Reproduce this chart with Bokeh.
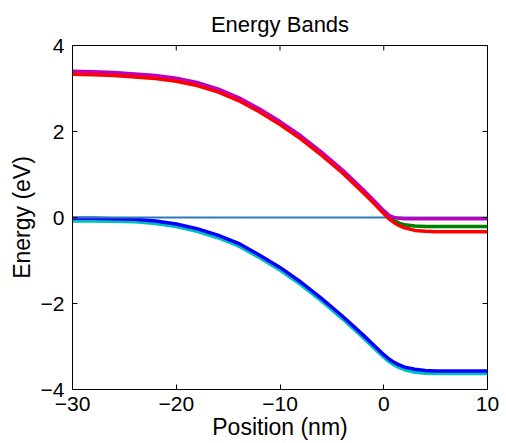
import math

from bokeh.plotting import figure
from bokeh.models import FixedTicker, Range1d
from bokeh.embed import file_html
from bokeh.resources import INLINE

# Position along the device (nm)
position_nm = [-30, -28, -26, -24, -22, -20, -18, -16, -14, -12, -10, -8, -6, -4,
               -2, -1, 0, 0.5, 1, 1.5, 2, 3, 4, 5, 6, 8, 10]

# Conduction band edges (eV)
ec_magenta = [3.40, 3.39, 3.37, 3.34, 3.30, 3.24, 3.14, 2.99, 2.79, 2.53, 2.23, 1.90, 1.52, 1.11,
              0.65, 0.41, 0.16, 0.05, 0.00, -0.02, -0.03, -0.03, -0.03, -0.03, -0.03, -0.03, -0.03]
ec_green = [3.365, 3.355, 3.335, 3.305, 3.265, 3.205, 3.105, 2.955, 2.755, 2.495, 2.195, 1.865, 1.485, 1.075,
            0.615, 0.375, 0.12, 0.01, -0.07, -0.13, -0.17, -0.20, -0.21, -0.21, -0.21, -0.21, -0.21]
ec_red = [3.33, 3.32, 3.30, 3.27, 3.23, 3.17, 3.07, 2.92, 2.72, 2.46, 2.16, 1.83, 1.45, 1.04,
          0.58, 0.34, 0.09, -0.03, -0.12, -0.19, -0.24, -0.30, -0.32, -0.33, -0.33, -0.33, -0.33]

# Valence band edges (eV)
ev_blue = [-0.02, -0.02, -0.03, -0.04, -0.08, -0.15, -0.26, -0.41, -0.60, -0.87, -1.16, -1.50, -1.88, -2.29,
           -2.73, -2.96, -3.19, -3.29, -3.37, -3.43, -3.48, -3.53, -3.56, -3.57, -3.57, -3.57, -3.57]
ev_cyan = [-0.08, -0.08, -0.09, -0.10, -0.14, -0.21, -0.32, -0.47, -0.66, -0.93, -1.22, -1.56, -1.94, -2.35,
           -2.79, -3.02, -3.25, -3.35, -3.43, -3.49, -3.54, -3.60, -3.62, -3.63, -3.63, -3.63, -3.63]

# Fermi level reference
fermi_x = [-30, 10]
fermi_y = [0, 0]

x_ticks = [-30, -20, -10, 0, 10]
x_tick_labels = ["\u221230", "\u221220", "\u221210", "0", "10"]
y_ticks = [-4, -2, 0, 2, 4]
y_tick_labels = ["\u22124", "\u22122", "0", "2", "4"]

FONT = "Liberation Sans"

p = figure(width=506, height=443,
           x_range=Range1d(x_ticks[0], x_ticks[-1]), y_range=Range1d(y_ticks[0], y_ticks[-1]),
           output_backend="svg", toolbar_location=None,
           min_border_left=72, min_border_right=19, min_border_top=45, min_border_bottom=54)

p.title.text = "Energy Bands"
p.title.align = "center"
p.title.text_font = FONT
p.title.text_font_size = "22px"
p.title.text_font_style = "normal"
p.title.text_color = "black"
p.title.text_line_height = 0.9
p.title.standoff = 17

p.grid.visible = False
p.outline_line_color = "black"
p.outline_line_width = 1
p.background_fill_color = "white"
p.border_fill_color = "white"

# Bands
p.line(position_nm, ev_cyan, line_color="#00BFBF", line_width=3.5)
p.line(position_nm, ev_blue, line_color="#0000FF", line_width=3.5)
p.line(fermi_x, fermi_y, line_color="#2a7ab8", line_width=2)
p.line(position_nm, ec_green, line_color="#008000", line_width=3.5)
p.line(position_nm, ec_magenta, line_color="#BF00BF", line_width=3.5)
p.line(position_nm, ec_red, line_color="#FF0000", line_width=3.5)

# Inward tick marks on the top and right edges of the box (clipped to the frame)
p.scatter(x_ticks, [y_ticks[-1]] * len(x_ticks), marker="dash", size=10, angle=math.pi / 2,
          line_color="black", line_width=1)
p.scatter([x_ticks[-1]] * len(y_ticks), y_ticks, marker="dash", size=10,
          line_color="black", line_width=1)


def style_axis(ax, ticks, labels):
    ax.ticker = FixedTicker(ticks=ticks)
    ax.minor_tick_line_color = None
    ax.major_tick_in = 5
    ax.major_tick_out = 0
    ax.major_tick_line_color = "black"
    ax.axis_line_color = "black"
    ax.major_label_overrides = dict(zip(ticks, labels))
    ax.major_label_text_font = FONT
    ax.major_label_text_font_size = "21px"
    ax.major_label_text_color = "black"
    ax.axis_label_text_font = FONT
    ax.axis_label_text_font_size = "23px"
    ax.axis_label_text_font_style = "normal"
    ax.axis_label_text_color = "black"


xa = p.xaxis[0]
style_axis(xa, x_ticks, x_tick_labels)
xa.axis_label = "Position (nm)"
xa.major_label_standoff = 7
xa.axis_label_standoff = 0

ya = p.yaxis[0]
style_axis(ya, y_ticks, y_tick_labels)
ya.axis_label = "Energy (eV)"
ya.major_label_standoff = 8
ya.axis_label_standoff = 3

open("out.html", "w").write(file_html(p, INLINE))
